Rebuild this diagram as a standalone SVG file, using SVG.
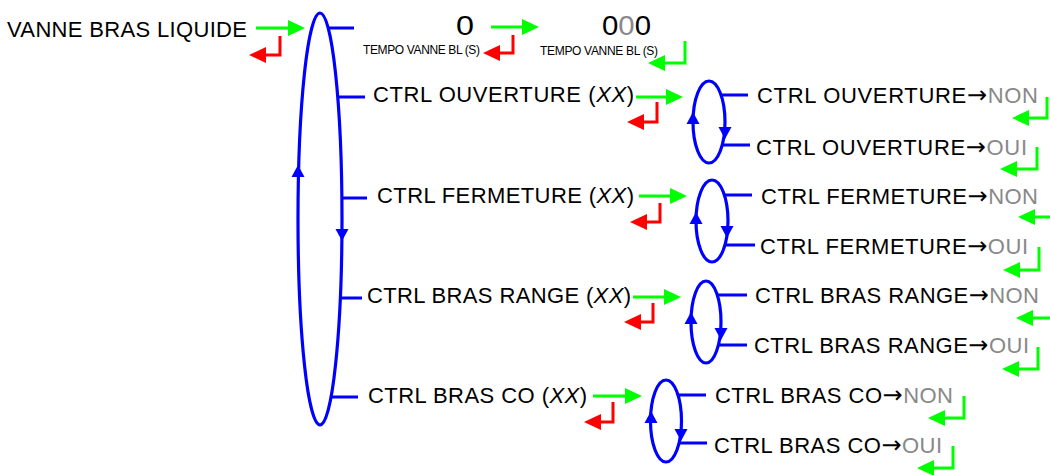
<svg xmlns="http://www.w3.org/2000/svg" xmlns:xlink="http://www.w3.org/1999/xlink" width="1050" height="475" viewBox="0 0 1050 475">
<style>
.t{font-family:"Liberation Sans",Arial,Helvetica,sans-serif;font-size:22px;fill:#000}
.s{font-size:12px}
.d{font-size:27px}
.gr{fill:#888}
.it{font-style:italic}
.ar{font-family:"DejaVu Sans",sans-serif;font-size:24px}
.bl{fill:none;stroke:#00f;stroke-width:3.2}
.ga{fill:none;stroke:#0f0;stroke-width:3;marker-end:url(#gh)}
.ra{fill:none;stroke:#f00;stroke-width:3;marker-end:url(#rh)}
.bh{fill:#00f}
</style>
<defs>
<marker id="gh" markerUnits="userSpaceOnUse" viewBox="0 0 17 16" refX="3" refY="8" markerWidth="17" markerHeight="16" orient="auto"><path d="M0,0 L17,8 L0,16 z" fill="#0f0"/></marker>
<marker id="rh" markerUnits="userSpaceOnUse" viewBox="0 0 17 16" refX="3" refY="8" markerWidth="17" markerHeight="16" orient="auto"><path d="M0,0 L17,8 L0,16 z" fill="#f00"/></marker>
<path id="up" class="bh" d="M0,-6 L6.5,6 L-6.5,6 z"/>
<path id="dn" class="bh" d="M0,6 L6.5,-6 L-6.5,-6 z"/>
</defs>

<g id="main-loop">
<ellipse class="bl" cx="320" cy="219" rx="22" ry="206"/>
<use xlink:href="#up" x="298" y="171"/>
<use xlink:href="#dn" x="342" y="235"/>
</g>

<g id="loop-ouverture">
<ellipse class="bl" cx="709" cy="122" rx="16" ry="41"/>
<use xlink:href="#up" x="693" y="118"/>
<use xlink:href="#dn" x="725" y="133"/>
</g>
<g id="loop-fermeture">
<ellipse class="bl" cx="712" cy="221" rx="16" ry="41"/>
<use xlink:href="#up" x="696" y="218"/>
<use xlink:href="#dn" x="727" y="232"/>
</g>
<g id="loop-range">
<ellipse class="bl" cx="706" cy="322" rx="15" ry="41"/>
<use xlink:href="#up" x="691" y="318"/>
<use xlink:href="#dn" x="721" y="334"/>
</g>
<g id="loop-co">
<ellipse class="bl" cx="666" cy="421" rx="15.5" ry="41"/>
<use xlink:href="#up" x="651" y="417"/>
<use xlink:href="#dn" x="681" y="435"/>
</g>

<g id="connectors">
<path class="bl" d="M328,28 H354 M338,97 H365 M342,198 H367 M340,298 H362 M331,397 H358"/>
<path class="bl" d="M721,95 H748 M722,145 H750 M724,195 H752 M725,245 H755 M717,295 H747 M718,345 H747 M678,395 H706 M679,443 H707"/>
<path class="ga" d="M256,28 H291"/>
<path class="ga" d="M491,27 H525"/>
<path class="ga" d="M636,97 H669"/>
<path class="ga" d="M639,196 H673"/>
<path class="ga" d="M633,297 H667"/>
<path class="ga" d="M593,396 H628"/>
<path class="ra" d="M280,36 V55 H263"/>
<path class="ra" d="M513,35 V53 H497"/>
<path class="ra" d="M657,102 V122 H641"/>
<path class="ra" d="M660,203 V222 H644"/>
<path class="ra" d="M653,303 V322 H638"/>
<path class="ra" d="M613,402 V422 H598"/>
<path class="ga" d="M685,41 V63 H662"/>
<path class="ga" d="M1047,97 V118 H1026"/>
<path class="ga" d="M1037,147 V169 H1014"/>
<path class="ga" d="M1053,196 V217 H1032"/>
<path class="ga" d="M1039,247 V270 H1017"/>
<path class="ga" d="M1053,297 V318 H1030"/>
<path class="ga" d="M1038,347 V369 H1016"/>
<path class="ga" d="M964,396 V418 H942"/>
<path class="ga" d="M953,446 V468 H931"/>
</g>

<g id="n-vanne"><text class="t" x="7" y="37" textLength="240">VANNE BRAS LIQUIDE</text></g>
<g id="n-tempo1">
<text class="t d" x="456" y="35" textLength="18" lengthAdjust="spacingAndGlyphs">0</text>
<text class="t s" x="363" y="54" textLength="117">TEMPO VANNE BL (S)</text>
</g>
<g id="n-tempo2">
<text class="t d" x="602" y="35" textLength="49" lengthAdjust="spacingAndGlyphs">0<tspan class="gr">0</tspan>0</text>
<text class="t s" x="540" y="55" textLength="118">TEMPO VANNE BL (S)</text>
</g>
<g id="n-ouverture"><text class="t" x="373" y="102" textLength="261">CTRL OUVERTURE (<tspan class="it">XX</tspan>)</text></g>
<g id="n-fermeture"><text class="t" x="377" y="203" textLength="257">CTRL FERMETURE (<tspan class="it">XX</tspan>)</text></g>
<g id="n-range"><text class="t" x="367" y="303" textLength="264">CTRL BRAS RANGE (<tspan class="it">XX</tspan>)</text></g>
<g id="n-co"><text class="t" x="368" y="403" textLength="219">CTRL BRAS CO (<tspan class="it">XX</tspan>)</text></g>

<g id="n-ouv-non"><text class="t" x="757" y="103" textLength="281">CTRL OUVERTURE<tspan class="ar">→</tspan><tspan class="gr">NON</tspan></text></g>
<g id="n-ouv-oui"><text class="t" x="756" y="155" textLength="271">CTRL OUVERTURE<tspan class="ar">→</tspan><tspan class="gr">OUI</tspan></text></g>
<g id="n-fer-non"><text class="t" x="761" y="204" textLength="277">CTRL FERMETURE<tspan class="ar">→</tspan><tspan class="gr">NON</tspan></text></g>
<g id="n-fer-oui"><text class="t" x="760" y="254" textLength="268">CTRL FERMETURE<tspan class="ar">→</tspan><tspan class="gr">OUI</tspan></text></g>
<g id="n-ran-non"><text class="t" x="755" y="303" textLength="284">CTRL BRAS RANGE<tspan class="ar">→</tspan><tspan class="gr">NON</tspan></text></g>
<g id="n-ran-oui"><text class="t" x="754" y="353" textLength="275">CTRL BRAS RANGE<tspan class="ar">→</tspan><tspan class="gr">OUI</tspan></text></g>
<g id="n-co-non"><text class="t" x="715" y="403" textLength="238">CTRL BRAS CO<tspan class="ar">→</tspan><tspan class="gr">NON</tspan></text></g>
<g id="n-co-oui"><text class="t" x="714" y="453" textLength="228">CTRL BRAS CO<tspan class="ar">→</tspan><tspan class="gr">OUI</tspan></text></g>
</svg>
